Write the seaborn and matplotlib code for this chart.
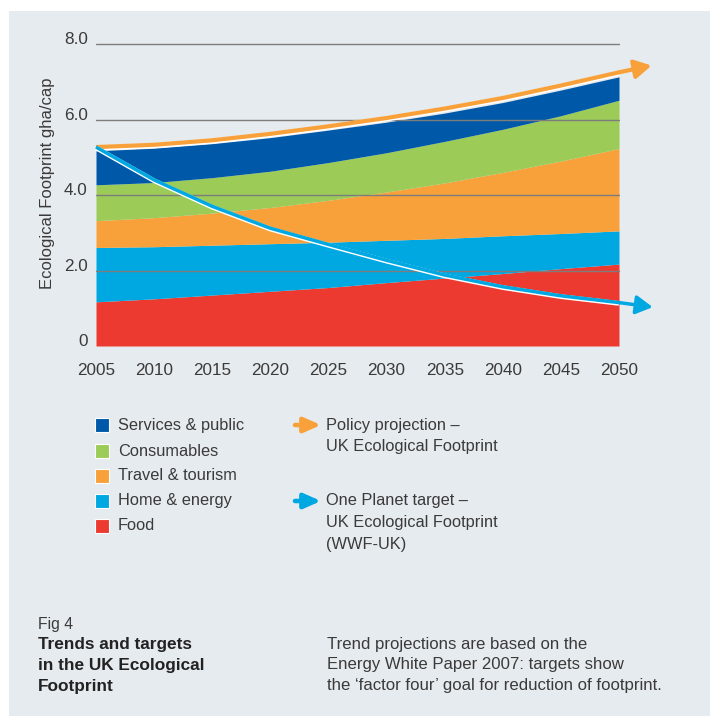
import matplotlib
matplotlib.use("Agg")
import matplotlib.pyplot as plt
import matplotlib.patheffects as pe
from matplotlib.patches import Rectangle, FancyArrowPatch
import seaborn as sns
import pandas as pd

# ---- data (gha per capita) ----
years = [2005, 2010, 2015, 2020, 2025, 2030, 2035, 2040, 2045, 2050]
food = [1.17, 1.25, 1.35, 1.45, 1.55, 1.68, 1.80, 1.92, 2.05, 2.17]
home_energy = [1.44, 1.38, 1.32, 1.26, 1.20, 1.12, 1.05, 1.00, 0.93, 0.88]
travel_tourism = [0.71, 0.77, 0.85, 0.96, 1.11, 1.28, 1.47, 1.68, 1.92, 2.18]
consumables = [0.95, 0.93, 0.94, 0.96, 1.00, 1.04, 1.10, 1.14, 1.20, 1.28]
services_public = [0.90, 0.91, 0.90, 0.89, 0.86, 0.81, 0.75, 0.71, 0.68, 0.62]

policy_projection = [5.27, 5.33, 5.45, 5.62, 5.82, 6.04, 6.29, 6.57, 6.90, 7.25]
policy_tip = (2052.8, 7.43)
one_planet_target = [5.27, 4.40, 3.70, 3.12, 2.69, 2.27, 1.88, 1.57, 1.33, 1.15]
target_tip = (2052.9, 1.03)

category_names = ["Food", "Home & energy", "Travel & tourism", "Consumables", "Services & public"]
legend_order = ["Services & public", "Consumables", "Travel & tourism", "Home & energy", "Food"]
y_ticks = [0, 2, 4, 6, 8]
y_tick_labels = ["0", "2.0", "4.0", "6.0", "8.0"]

# ---- styling ----
W, H = 710, 716
BG = "#e6ebef"
TEXT = "#3a3a3a"
GRID = "#7d7d7d"
ORANGE = "#f8a13a"
CYAN = "#00a8e2"
palette = {
    "Food": "#ec3a31",
    "Home & energy": CYAN,
    "Travel & tourism": ORANGE,
    "Consumables": "#9ccb58",
    "Services & public": "#0059a8",
}

sns.set_theme(style="white")
plt.rcParams["font.family"] = ["Liberation Sans", "DejaVu Sans"]
plt.rcParams["text.color"] = TEXT


def fx(px):
    return px / W


def fy(py):
    return 1 - py / H


fig = plt.figure(figsize=(W / 100, H / 100), dpi=100, facecolor="white")
fig.patches.append(Rectangle((fx(9), 0), 1 - fx(9), fy(11), transform=fig.transFigure,
                             facecolor=BG, edgecolor="none", zorder=-5))

ax = fig.add_axes([fx(96), fy(346), fx(619) - fx(96), fy(44) - fy(346)])
ax.set_facecolor(BG)
for s in ax.spines.values():
    s.set_visible(False)

# stacked footprint by category
stack_df = pd.DataFrame({"year": years, "Food": food, "Home & energy": home_energy,
                         "Travel & tourism": travel_tourism, "Consumables": consumables,
                         "Services & public": services_public})
ax.stackplot(stack_df["year"], *[stack_df[c] for c in category_names],
             colors=[palette[c] for c in category_names], linewidth=0, zorder=1)

# trend lines with a thin white edge underneath
line_df = pd.DataFrame({"year": years, "policy": policy_projection, "target": one_planet_target})
for col, color, lw, tip in [("policy", ORANGE, 3.0, policy_tip), ("target", CYAN, 2.5, target_tip)]:
    sns.lineplot(data=line_df, x="year", y=col, ax=ax, color=color, linewidth=lw,
                 clip_on=False, zorder=3, solid_capstyle="butt", solid_joinstyle="round",
                 path_effects=[pe.Stroke(linewidth=lw + 0.9, foreground="white", offset=(0, -0.6)),
                               pe.Normal()])
    ax.annotate("", xy=tip, xytext=(line_df["year"].iloc[-1], line_df[col].iloc[-1]),
                annotation_clip=False, zorder=3,
                arrowprops=dict(arrowstyle="-|>,head_length=0.5,head_width=0.28",
                                mutation_scale=20, color=color, lw=lw,
                                shrinkA=0, shrinkB=0))

ax.set_xlim(2005, 2050)
ax.set_ylim(0, 8)
ax.set_xticks(list(range(2005, 2051, 5)))
ax.set_yticks(y_ticks)
ax.set_yticklabels(y_tick_labels)
ax.tick_params(axis="both", length=0, labelsize=12.3, labelcolor=TEXT)
ax.tick_params(axis="y", pad=6)
ax.tick_params(axis="x", pad=12.5)
for lab in ax.get_yticklabels():
    lab.set_va("baseline")

ax.grid(axis="y", color=GRID, linewidth=1.0)
ax.grid(axis="x", visible=False)
ax.set_axisbelow(False)
glines = ax.get_ygridlines()
glines[0].set_visible(False)
for g in glines:
    g.set_clip_on(False)

ax.set_xlabel("")
ax.set_ylabel("Ecological Footprint gha/cap", fontsize=12, color=TEXT)
ax.yaxis.set_label_coords(-0.079, 0.54)

# ---- category legend ----
legend_rows = [425, 451, 476, 501, 526]
for name, py in zip(legend_order, legend_rows):
    fig.patches.append(Rectangle((fx(95), fy(py + 7)), fx(14), 14 / H, transform=fig.transFigure,
                                 facecolor=palette[name], edgecolor="white", linewidth=0.8))
    fig.text(fx(118), fy(py), name, fontsize=11.8, va="center", ha="left", color=TEXT)

# ---- line legend ----
for py, color, lines in [(425, ORANGE, ["Policy projection \u2013", "UK Ecological Footprint"]),
                         (501, CYAN, ["One Planet target \u2013", "UK Ecological Footprint", "(WWF-UK)"])]:
    fig.patches.append(FancyArrowPatch((fx(295), fy(py)), (fx(321), fy(py)), transform=fig.transFigure,
                                       arrowstyle="-|>,head_length=0.5,head_width=0.22",
                                       mutation_scale=20, color=color, lw=3.3,
                                       shrinkA=0, shrinkB=0))
    for i, t in enumerate(lines):
        fig.text(fx(326), fy(py + i * 21.5), t, fontsize=11.8, va="center", ha="left", color=TEXT)

# ---- caption ----
fig.text(fx(38), fy(624), "Fig 4", fontsize=11.3, va="center", ha="left", color=TEXT)
for i, t in enumerate(["Trends and targets", "in the UK Ecological", "Footprint"]):
    fig.text(fx(38), fy(645 + i * 20.5), t, fontsize=12.4, fontweight="bold", va="center",
             ha="left", color="#222222")
for i, t in enumerate(["Trend projections are based on the",
                       "Energy White Paper 2007: targets show",
                       "the \u2018factor four\u2019 goal for reduction of footprint."]):
    fig.text(fx(327), fy(644 + i * 20.7), t, fontsize=12.1, va="center", ha="left", color=TEXT)

fig.savefig("out.png", dpi=100, facecolor="white")
